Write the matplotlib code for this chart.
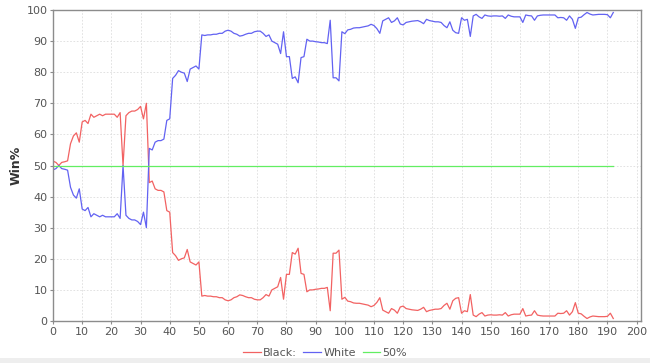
import numpy as np
import matplotlib
matplotlib.use("Agg")
import matplotlib.pyplot as plt
from matplotlib.patches import Rectangle

# win% per move
black = [
    51.4, 51.0, 50.0, 51.0, 51.2, 51.5, 57.0, 59.5, 60.5, 57.5,
    64.0, 64.5, 63.5, 66.5, 65.5, 66.0, 66.5, 66.0, 66.5, 66.5,
    66.5, 66.5, 65.5, 67.0, 50.0, 66.0, 67.0, 67.5, 67.5, 68.0,
    69.0, 65.0, 70.0, 44.5, 45.0, 42.5, 42.0, 42.0, 41.5, 35.5,
    35.0, 22.0, 21.0, 19.5, 20.0, 20.3, 23.0, 19.0, 18.5, 18.0,
    19.0, 8.0, 8.2, 8.0, 8.0, 7.8, 7.8, 7.5, 7.5, 6.8,
    6.5, 6.8, 7.5, 7.8, 8.4, 8.2, 7.8, 7.5, 7.5, 7.0,
    6.8, 6.8, 7.5, 8.5, 8.0, 10.0, 10.5, 11.0, 14.0, 7.0,
    15.0, 15.0, 22.0, 21.5, 23.4, 15.3, 15.0, 9.4, 10.0, 10.0,
    10.2, 10.3, 10.5, 10.5, 10.8, 3.3, 21.8, 21.8, 22.8, 7.0,
    7.6, 6.4, 6.2, 5.8, 5.7, 5.7, 5.5, 5.3, 5.1, 4.6,
    5.0, 6.0, 7.5, 3.5, 3.0, 2.5, 4.0, 3.5, 2.5, 4.5,
    4.8, 4.0, 3.8, 3.6, 3.5, 3.4, 3.8, 4.4, 3.0, 3.4,
    3.6, 3.8, 3.8, 4.0, 5.0, 5.7, 3.8, 6.5, 7.3, 7.5,
    2.5, 3.3, 3.0, 8.5, 1.9, 1.4, 2.2, 2.7, 1.6, 1.9,
    2.0, 1.9, 1.9, 2.0, 1.9, 2.7, 1.6, 2.0, 2.2, 2.2,
    2.2, 4.0, 1.6, 1.8, 1.9, 3.3, 1.9, 1.7, 1.6, 1.6,
    1.6, 1.6, 1.6, 2.5, 2.4, 2.5, 3.3, 1.9, 3.0, 5.9,
    2.5, 2.3, 1.5, 0.8, 1.3, 1.6, 1.5, 1.4, 1.4, 1.4,
    1.5, 2.5, 0.8,
]
white = [
    48.6, 49.0, 50.0, 49.0, 48.8, 48.5, 43.0, 40.5, 39.5, 42.5,
    36.0, 35.5, 36.5, 33.5, 34.5, 34.0, 33.5, 34.0, 33.5, 33.5,
    33.5, 33.5, 34.5, 33.0, 50.0, 34.0, 33.0, 32.5, 32.5, 32.0,
    31.0, 35.0, 30.0, 55.5, 55.0, 57.5, 58.0, 58.0, 58.5, 64.5,
    65.0, 78.0, 79.0, 80.5, 80.0, 79.7, 77.0, 81.0, 81.5, 82.0,
    81.0, 92.0, 91.8, 92.0, 92.0, 92.2, 92.2, 92.5, 92.5, 93.2,
    93.5, 93.2, 92.5, 92.2, 91.6, 91.8, 92.2, 92.5, 92.5, 93.0,
    93.2, 93.2, 92.5, 91.5, 92.0, 90.0, 89.5, 89.0, 86.0, 93.0,
    85.0, 85.0, 78.0, 78.5, 76.6, 84.7, 85.0, 90.6, 90.0, 90.0,
    89.8, 89.7, 89.5, 89.5, 89.2, 96.7, 78.2, 78.2, 77.2, 93.0,
    92.4, 93.6, 93.8, 94.2, 94.3, 94.3, 94.5, 94.7, 94.9, 95.4,
    95.0, 94.0, 92.5, 96.5, 97.0, 97.5, 96.0, 96.5, 97.5, 95.5,
    95.2, 96.0, 96.2, 96.4, 96.5, 96.6, 96.2, 95.6, 97.0, 96.6,
    96.4, 96.2, 96.2, 96.0, 95.0, 94.3, 96.2, 93.5, 92.7, 92.5,
    97.5, 96.7, 97.0, 91.5, 98.1, 98.6, 97.8, 97.3, 98.4, 98.1,
    98.0, 98.1, 98.1, 98.0, 98.1, 97.3, 98.4, 98.0, 97.8, 97.8,
    97.8, 96.0, 98.4, 98.2, 98.1, 96.7, 98.1, 98.3, 98.4, 98.4,
    98.4, 98.4, 98.4, 97.5, 97.6, 97.5, 96.7, 98.1, 97.0, 94.1,
    97.5, 97.7, 98.5, 99.2, 98.7, 98.4, 98.5, 98.6, 98.6, 98.6,
    98.5, 97.5, 99.2,
]
moves = np.arange(len(black))
even = [50.0] * len(black)

W, H = 650, 363
fig = plt.figure(figsize=(W / 100, H / 100), dpi=100)
fig.patch.set_facecolor("white")
ax = fig.add_axes([53 / W, 1 - 321 / H, (641 - 53) / W, (321 - 10) / H])

ax.plot(moves, black, color="#F26262", lw=0.9, label="Black:")
ax.plot(moves, white, color="#6262F2", lw=0.9, label="White")
ax.plot(moves, even, color="#62EE62", lw=0.9, label="50%")

ax.set_xlim(0, 201.5)
ax.set_ylim(0, 100)
ax.set_xticks(np.arange(0, 201, 10))
ax.set_yticks(np.arange(0, 101, 10))
ax.grid(True, color="#dddddd", linestyle=(0, (2, 2)), linewidth=0.6)
ax.set_axisbelow(True)

for s in ax.spines.values():
    s.set_color("#8c8c8c")
    s.set_linewidth(1.0)
ax.tick_params(axis="both", colors="#8c8c8c", labelcolor="#555555",
               labelsize=8, length=2, width=0.8, pad=2)
ax.set_ylabel("Win%", fontsize=9, fontweight="bold", color="#333333", labelpad=3)

fig.legend(loc="center", bbox_to_anchor=(0.5, 1 - 353 / H), ncol=3, frameon=False,
           fontsize=8, handlelength=1.6, handletextpad=0.2, columnspacing=0.6,
           labelcolor="#555555")

# light band at the bottom edge
fig.patches.append(Rectangle((0, 0), 1, 5 / H, transform=fig.transFigure,
                             facecolor="#eeeeee", edgecolor="none"))

fig.savefig("out.png", dpi=100)
